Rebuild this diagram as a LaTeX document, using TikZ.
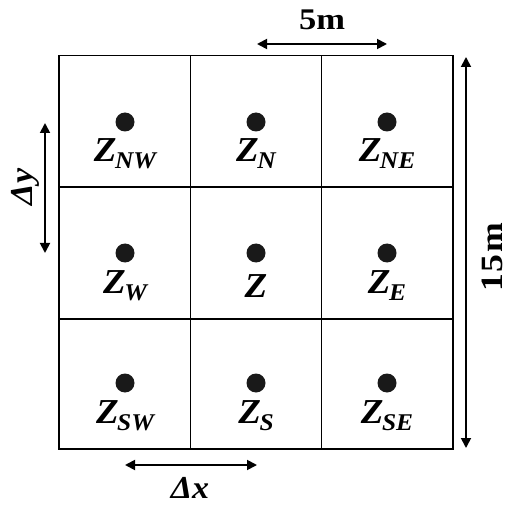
\documentclass[tikz,border=0pt]{standalone}
\usepackage{fontspec}
\setmainfont[FakeStretch=1.15]{Liberation Serif}
\newfontfamily\zfont[FakeStretch=1.06]{Liberation Serif}
\usetikzlibrary{arrows.meta}
\tikzset{
  gridline/.style={line width=1.6pt},
  dimarrow/.style={line width=1.8pt,{Triangle[length=10pt,width=10pt]}-{Triangle[length=10pt,width=10pt]}},
  cellpt/.style={circle,fill=black!90,inner sep=0pt,minimum size=19pt},
  zlabel/.style={anchor=base,inner sep=0pt,font=\zfont\fontsize{35}{35}\selectfont\bfseries\itshape},
  dimtext/.style={inner sep=0pt,font=\fontsize{30}{30}\selectfont\bfseries}
}
\newcommand\zsub[1]{Z\kern-1.5pt\raisebox{-7pt}{\fontsize{24}{24}\selectfont #1}}
\begin{document}
\begin{tikzpicture}[x=1pt,y=-1pt]
\useasboundingbox (0,0) rectangle (514,505);
% grid
\draw[gridline] (59,55.5) rectangle (453,449);
\draw[gridline] (190.5,55.5) -- (190.5,449);
\draw[gridline] (321.5,55.5) -- (321.5,449);
\draw[gridline] (59,187) -- (453,187);
\draw[gridline] (59,319) -- (453,319);
% points
\node[cellpt] (pNW) at (125,122) {};
\node[cellpt] (pN)  at (256,122) {};
\node[cellpt] (pNE) at (387,122) {};
\node[cellpt] (pW)  at (125,253) {};
\node[cellpt] (pC)  at (256,253) {};
\node[cellpt] (pE)  at (387,253) {};
\node[cellpt] (pSW) at (125,383) {};
\node[cellpt] (pS)  at (256,383) {};
\node[cellpt] (pSE) at (387,383) {};
% labels
\node[zlabel] (lNW) at (125,162) {\zsub{NW}};
\node[zlabel] (lN)  at (256,162) {\zsub{N}};
\node[zlabel] (lNE) at (387,162) {\zsub{NE}};
\node[zlabel] (lW)  at (125,293) {\zsub{W}};
\node[zlabel] (lC)  at (256,297) {Z};
\node[zlabel] (lE)  at (387,293) {\zsub{E}};
\node[zlabel] (lSW) at (125,423) {\zsub{SW}};
\node[zlabel] (lS)  at (256,423) {\zsub{S}};
\node[zlabel] (lSE) at (387,423) {\zsub{SE}};
% dimension arrows
\coordinate (a5l) at (257,44);
\coordinate (a5r) at (387,44);
\draw[dimarrow] (a5l) -- (a5r);
\node[dimtext,anchor=base] (t5) at (322,29.5) {5m};
\coordinate (a15t) at (466,57);
\coordinate (a15b) at (466,448);
\draw[dimarrow] (a15t) -- (a15b);
\node[dimtext,font=\fontsize{31}{31}\selectfont\bfseries,rotate=90] (t15) at (492,257) {1\kern1.5pt5\kern2pt m};
\coordinate (axl) at (125,465);
\coordinate (axr) at (257,465);
\draw[dimarrow] (axl) -- (axr);
\node[dimtext,font=\zfont\fontsize{32}{32}\selectfont\bfseries\itshape] (tx) at (190,488) {Δx};
\coordinate (ayt) at (45,123);
\coordinate (ayb) at (45,253);
\draw[dimarrow] (ayt) -- (ayb);
\node[dimtext,font=\zfont\fontsize{32}{32}\selectfont\bfseries\itshape,rotate=90] (ty) at (25,187) {Δy};
\end{tikzpicture}
\end{document}
